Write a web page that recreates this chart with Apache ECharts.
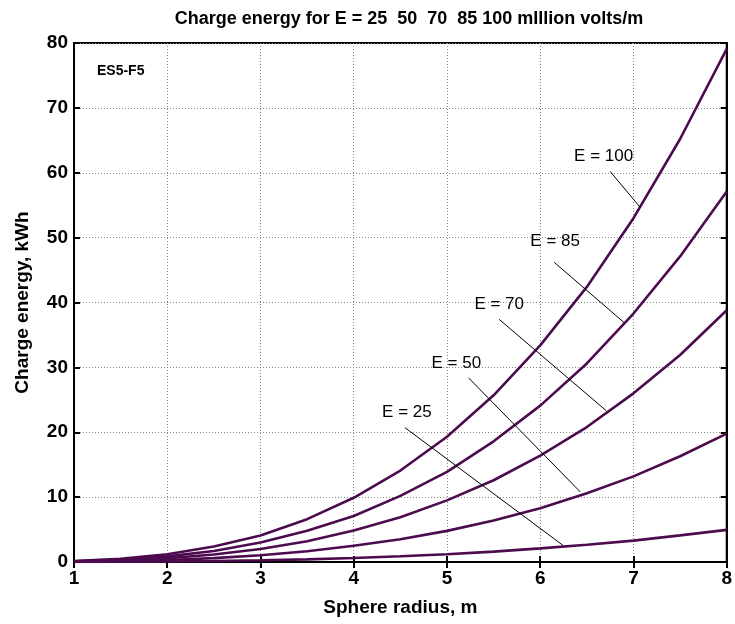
<!DOCTYPE html>
<html>
<head>
<meta charset="utf-8">
<script src="https://cdn.jsdelivr.net/npm/echarts@6/dist/echarts.min.js"></script>
<style>
  html, body { margin: 0; padding: 0; background: #fff; }
  #chart { width: 735px; height: 624px; }
</style>
</head>
<body>
<div id="chart"></div>
<script>
// sphere radius, m
var radius = [1, 1.5, 2, 2.5, 3, 3.5, 4, 4.5, 5, 5.5, 6, 6.5, 7, 7.5, 8];
// charge energy, kWh
var e100 = [0.15, 0.5, 1.2, 2.4, 4.1, 6.6, 9.9, 14.1, 19.3, 25.7, 33.4, 42.4, 53.0, 65.2, 79.1];
var e85 = [0.11, 0.36, 0.87, 1.7, 3.0, 4.8, 7.1, 10.2, 13.9, 18.6, 24.1, 30.6, 38.3, 47.1, 57.1];
var e70 = [0.07, 0.25, 0.59, 1.15, 2.0, 3.2, 4.85, 6.9, 9.5, 12.6, 16.4, 20.8, 26.0, 31.9, 38.8];
var e50 = [0.04, 0.12, 0.3, 0.6, 1.04, 1.65, 2.5, 3.5, 4.8, 6.4, 8.3, 10.6, 13.2, 16.3, 19.8];
var e25 = [0.01, 0.03, 0.08, 0.15, 0.26, 0.41, 0.62, 0.88, 1.2, 1.6, 2.1, 2.65, 3.3, 4.1, 4.95];

// labels and their leader lines (data coords)
var labelText = ['E = 100', 'E = 85', 'E = 70', 'E = 50', 'E = 25'];
var labelPos = [[6.68, 62.5], [6.16, 49.4], [5.56, 39.7], [5.10, 30.6], [4.57, 23.0]];
var leaderFrom = [[6.75, 60.2], [6.15, 46.2], [5.56, 37.4], [5.23, 28.4], [4.55, 20.7]];
var leaderTo = [[7.07, 54.7], [6.90, 36.9], [6.71, 23.3], [6.43, 10.8], [6.25, 2.5]];

var font = 'Liberation Sans, Arial, sans-serif';
var curveColor = '#4b0b4e';

function pairs(ys) {
    return radius.map(function (x, i) { return [x, ys[i]]; });
}

function curve(name, ys) {
    return {
        name: name,
        type: 'line',
        data: pairs(ys),
        symbol: 'none',
        smooth: false,
        lineStyle: { color: curveColor, width: 2.6 },
        z: 3
    };
}

var chart = echarts.init(document.getElementById('chart'));

var series = [
    curve('E = 100', e100),
    curve('E = 85', e85),
    curve('E = 70', e70),
    curve('E = 50', e50),
    curve('E = 25', e25)
];

// leader lines + labels
series.push({
    type: 'line',
    data: [],
    silent: true,
    markLine: {
        symbol: 'none',
        silent: true,
        label: { show: false },
        lineStyle: { color: '#000', width: 1, type: 'solid' },
        data: leaderFrom.map(function (p, i) {
            return [{ coord: p }, { coord: leaderTo[i] }];
        })
    },
    markPoint: {
        symbol: 'circle',
        symbolSize: 1,
        itemStyle: { color: 'rgba(0,0,0,0)' },
        silent: true,
        label: {
            show: true,
            position: 'inside',
            color: '#000',
            fontFamily: font,
            fontSize: 17,
            formatter: function (p) { return p.name; }
        },
        data: labelPos.map(function (p, i) {
            return { name: labelText[i], coord: p };
        })
    }
});

var option = {
    animation: false,
    backgroundColor: '#fff',
    title: {
        text: 'Charge energy for E = 25  50  70  85 100 mIllion volts/m',
        left: 404,
        textAlign: 'center',
        top: 5,
        textStyle: { fontFamily: font, fontSize: 18, fontWeight: 'bold', color: '#000' }
    },
    grid: {
        left: 74, right: 2, top: 43, bottom: 62,
        show: true,
        borderColor: '#000',
        borderWidth: 2
    },
    graphic: [{
        type: 'text',
        left: 97,
        top: 64,
        style: { text: 'ES5-F5', fontFamily: font, fontSize: 14, fontWeight: 'bold', fill: '#000' }
    }],
    xAxis: [{
        type: 'value',
        min: 1, max: 8, interval: 1,
        name: 'Sphere radius, m',
        nameLocation: 'middle',
        nameGap: 36,
        nameTextStyle: { fontFamily: font, fontSize: 19, fontWeight: 'bold', color: '#000' },
        axisLine: { show: true, lineStyle: { color: '#000', width: 2 } },
        axisTick: { inside: true, length: 6, lineStyle: { color: '#000', width: 2 } },
        axisLabel: { fontFamily: font, fontSize: 19, fontWeight: 'bold', color: '#000', margin: 7 },
        splitLine: { show: true, lineStyle: { color: '#888', type: [1, 2], width: 1 } }
    }, {
        type: 'value',
        position: 'top',
        min: 1, max: 8, interval: 1,
        axisLine: { show: true, lineStyle: { color: '#000', width: 2 } },
        axisTick: { inside: true, length: 6, lineStyle: { color: '#000', width: 2 } },
        axisLabel: { show: false },
        splitLine: { show: false }
    }],
    yAxis: [{
        type: 'value',
        min: 0, max: 80, interval: 10,
        name: 'Charge energy, kWh',
        nameLocation: 'middle',
        nameGap: 42,
        nameTextStyle: { fontFamily: font, fontSize: 19, fontWeight: 'bold', color: '#000' },
        axisLine: { show: true, lineStyle: { color: '#000', width: 2 } },
        axisTick: { inside: true, length: 6, lineStyle: { color: '#000', width: 2 } },
        axisLabel: { fontFamily: font, fontSize: 19, fontWeight: 'bold', color: '#000', margin: 6 },
        splitLine: { show: true, lineStyle: { color: '#888', type: [1, 2], width: 1 } }
    }, {
        type: 'value',
        position: 'right',
        min: 0, max: 80, interval: 10,
        axisLine: { show: true, lineStyle: { color: '#000', width: 2 } },
        axisTick: { inside: true, length: 6, lineStyle: { color: '#000', width: 2 } },
        axisLabel: { show: false },
        splitLine: { show: false }
    }],
    series: series
};

chart.setOption(option);
</script>
</body>
</html>
